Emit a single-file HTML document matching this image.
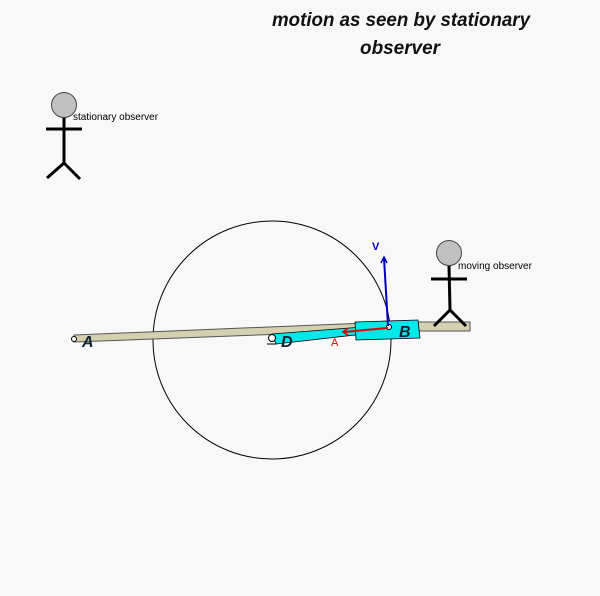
<!DOCTYPE html>
<html><head><meta charset="utf-8"><style>
html,body{margin:0;padding:0;background:#f8f8f8;}
svg{display:block}
</style></head><body>
<svg width="600" height="596" viewBox="0 0 600 596" xmlns="http://www.w3.org/2000/svg" font-family="Liberation Sans, Arial, sans-serif">
<rect width="600" height="596" fill="#f8f8f8"/>
<text x="401" y="26" font-size="19" font-weight="bold" font-style="italic" text-anchor="middle" fill="#111" textLength="258" lengthAdjust="spacingAndGlyphs">motion as seen by stationary</text>
<text x="400" y="54" font-size="19" font-weight="bold" font-style="italic" text-anchor="middle" fill="#111" textLength="80" lengthAdjust="spacingAndGlyphs">observer</text>

<!-- stationary observer -->
<circle cx="64" cy="105" r="12.5" fill="#c0c0c0" stroke="#444" stroke-width="1"/>
<g stroke="#000" stroke-width="3" fill="none">
<line x1="64" y1="118" x2="64" y2="164"/>
<line x1="46" y1="129" x2="82" y2="129"/>
<polyline points="47,178 64,163 80,179"/>
</g>
<text x="73" y="120" font-size="10" fill="#000">stationary observer</text>

<!-- circle -->
<circle cx="272" cy="340" r="119" fill="none" stroke="#000" stroke-width="1"/>

<!-- rod A-B -->
<polygon points="74,335 390,322 390,330 74,342" fill="#d4d0b0" stroke="#555" stroke-width="1"/>
<polygon points="418,322 470,322 470,331 418,331" fill="#d4d0b0" stroke="#555" stroke-width="1"/>
<circle cx="74" cy="339" r="2.5" fill="#fff" stroke="#000" stroke-width="1"/>
<text x="82" y="347" font-size="16" font-weight="bold" font-style="italic" fill="#123">A</text>

<!-- moving observer -->
<circle cx="449" cy="253" r="12.5" fill="#c0c0c0" stroke="#444" stroke-width="1"/>
<g stroke="#000" stroke-width="3" fill="none">
<line x1="449" y1="266" x2="450" y2="310"/>
<line x1="431" y1="279" x2="467" y2="279"/>
<polyline points="434,326 450,310 466,326"/>
</g>
<text x="458" y="269" font-size="10" fill="#000">moving observer</text>

<!-- cyan slider -->
<polygon points="272,334 388,325 390,331 276,344" fill="#00e8e8" stroke="#000" stroke-width="0.8"/>
<polygon points="355,322 418,320 420,338 356,340" fill="#00e8e8" stroke="#000" stroke-width="0.8"/>
<circle cx="272" cy="338" r="3.5" fill="#fff" stroke="#000" stroke-width="1"/>
<line x1="267" y1="344" x2="277" y2="344" stroke="#000" stroke-width="1"/>
<text x="281" y="347" font-size="16" font-weight="bold" font-style="italic" fill="#123">D</text>
<text x="399" y="337" font-size="16" font-weight="bold" font-style="italic" fill="#123">B</text>
<circle cx="389" cy="327" r="2.5" fill="#fff" stroke="#000" stroke-width="1"/>

<!-- acceleration arrow -->
<line x1="388" y1="328" x2="344" y2="332" stroke="#e00000" stroke-width="2"/>
<polyline points="348,328 343,332 348,335" fill="none" stroke="#e00000" stroke-width="1.5"/>
<text x="331" y="346" font-size="11" fill="#e00000">A</text>

<!-- velocity arrow -->
<line x1="388" y1="326" x2="384" y2="258" stroke="#0000c0" stroke-width="2"/>
<polyline points="381,263 384,257 387,263" fill="none" stroke="#0000c0" stroke-width="1.5"/>
<text x="372" y="250" font-size="11" font-weight="bold" fill="#0000c0">V</text>
</svg>
</body></html>
